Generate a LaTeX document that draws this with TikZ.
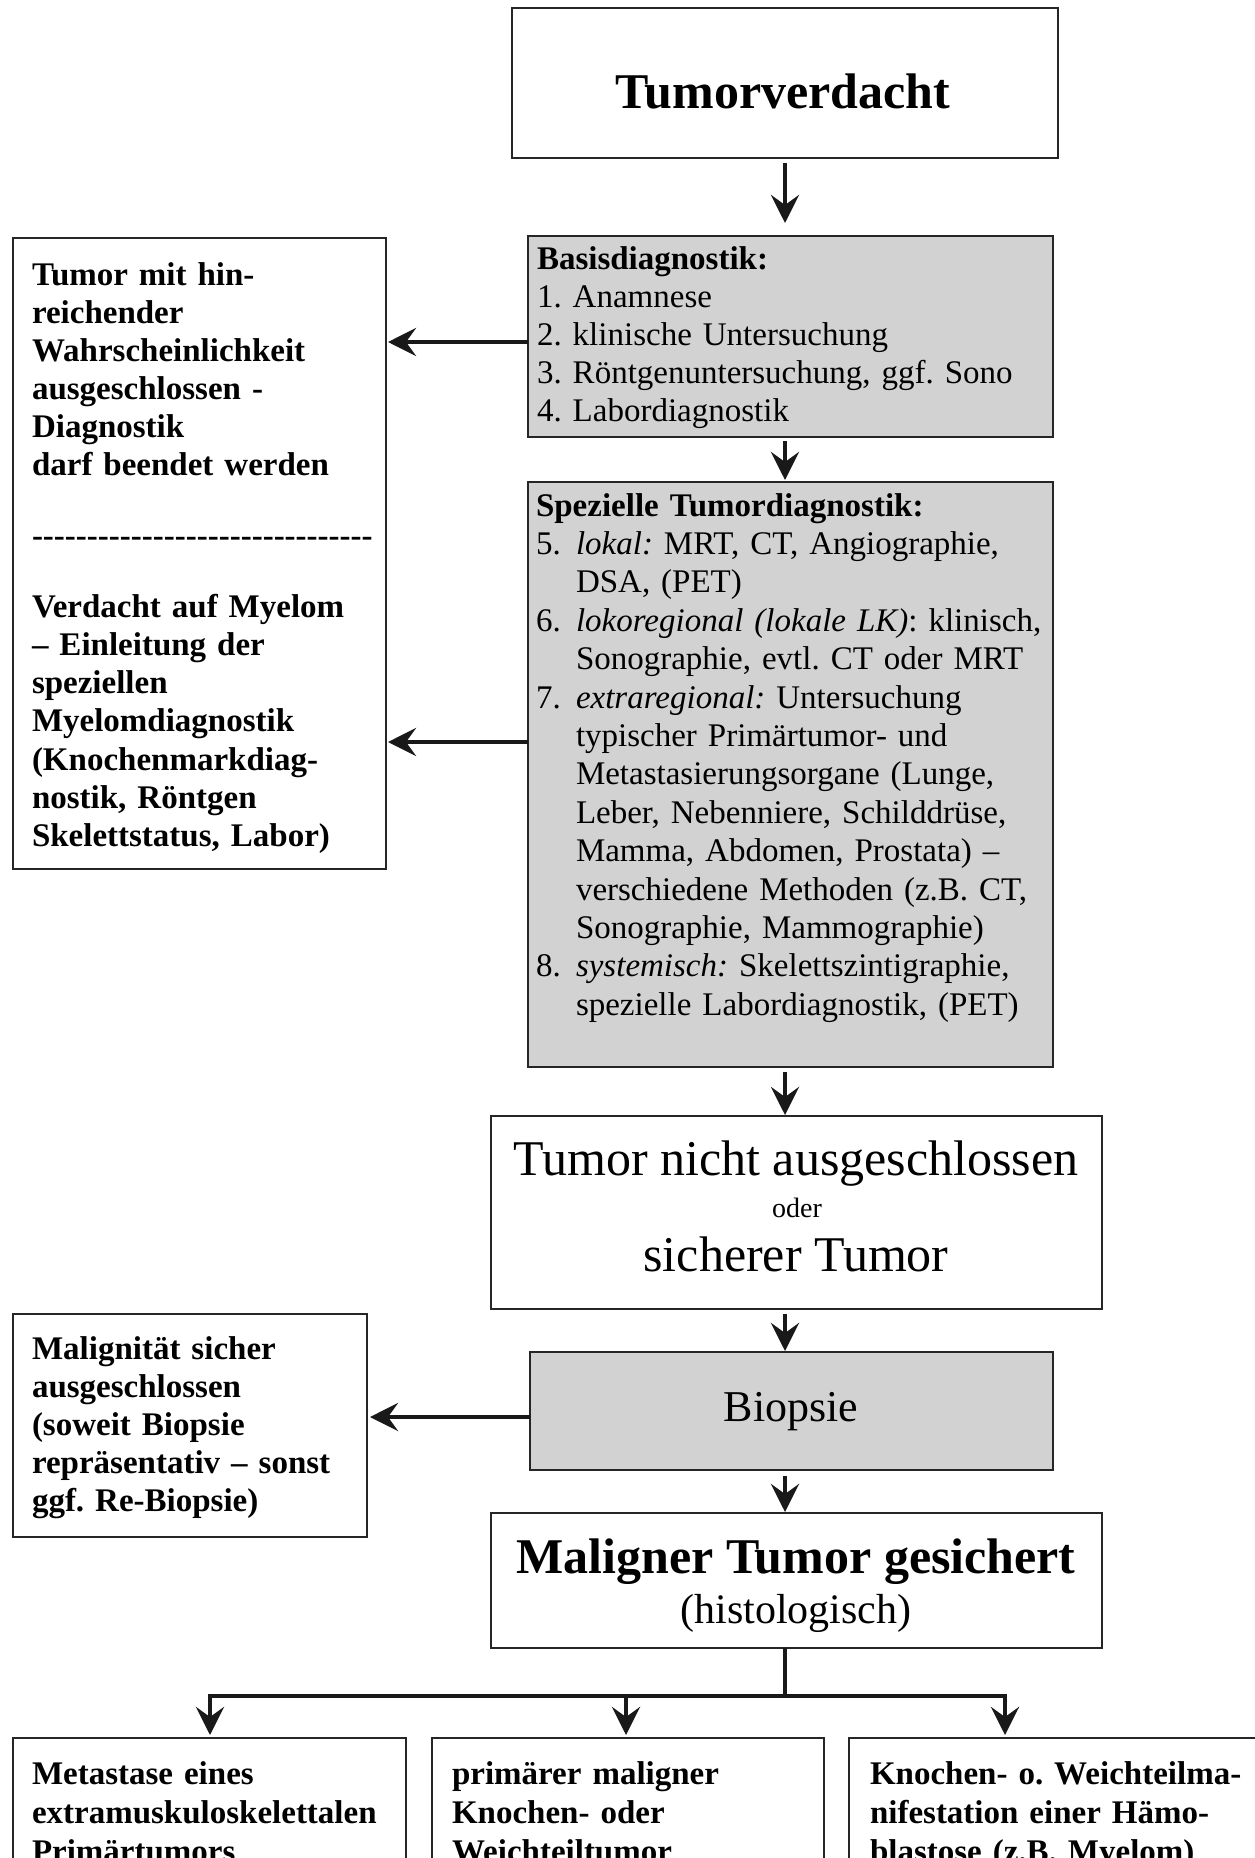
\documentclass[tikz,border=0pt]{standalone}
\usepackage{fontspec}
\setmainfont{Liberation Serif}
\usetikzlibrary{arrows.meta,calc}
\newcommand{\nr}[1]{\makebox[40pt][l]{#1}}
\newcommand{\ind}{\hspace*{40pt}}
\newcommand{\hyrow}{\foreach \k in {1,...,31}{-\kern0pt}}
\frenchspacing
\begin{document}
\begin{tikzpicture}[x=1pt,y=-1pt,
  box/.style={draw=black!85, line width=2.2pt, fill=white, rectangle, inner sep=0pt, outer sep=0pt, anchor=north west},
  greybox/.style={box, fill=gray!35},
  arr/.style={line width=4.5pt, draw=black!90, -{Stealth[length=28pt,width=28pt,inset=10pt]}},
  stem/.style={line width=4.5pt, draw=black!90, line cap=rect},
  txt/.style={anchor=base west, inner sep=0pt, outer sep=0pt, align=left, text width=#1},
  txt/.default=380pt,
  ctr/.style={anchor=base, inner sep=0pt}]
\useasboundingbox (0,0) rectangle (1255,1858);
\clip (0,0) rectangle (1255,1858);
\fill[white] (0,0) rectangle (1255,1858);

% boxes
\node[box, minimum width=546pt, minimum height=150pt] (tv) at (512,8) {};
\node[greybox, minimum width=525pt, minimum height=201pt] (basis) at (528,236) {};
\node[greybox, minimum width=525pt, minimum height=585pt] (spez) at (528,482) {};
\node[box, minimum width=611pt, minimum height=193pt] (nicht) at (491,1116) {};
\node[greybox, minimum width=523pt, minimum height=118pt] (bio) at (530,1352) {};
\node[box, minimum width=611pt, minimum height=135pt] (mal) at (491,1513) {};
\node[box, minimum width=373pt, minimum height=631pt] (lbox1) at (13,238) {};
\node[box, minimum width=354pt, minimum height=223pt] (lbox2) at (13,1314) {};
\node[box, minimum width=393pt, minimum height=200pt] (b1) at (13,1738) {};
\node[box, minimum width=392pt, minimum height=200pt] (b2) at (432,1738) {};
\node[box, minimum width=421pt, minimum height=200pt] (b3) at (849,1738) {};

% texts
\node[ctr, font=\fontsize{50}{60}\selectfont\bfseries] (tvtext) at (783,108) {Tumorverdacht};

\node[txt=600pt, font=\fontsize{33}{38}\selectfont] (basistext) at (537,269)
 {\textbf{Basisdiagnostik:}\\
  1. Anamnese\\
  2. klinische Untersuchung\\
  3. Röntgenuntersuchung, ggf. Sono\\
  4. Labordiagnostik};

\node[txt=600pt, font=\fontsize{33}{38.4}\selectfont] (speztext) at (536,516)
 {\textbf{Spezielle Tumordiagnostik:}\\
  \nr{5.}\textit{lokal:} MRT, CT, Angiographie,\\
  \ind DSA, (PET)\\
  \nr{6.}\textit{lokoregional (lokale LK)}: klinisch,\\
  \ind Sonographie, evtl. CT oder MRT\\
  \nr{7.}\textit{extraregional:} Untersuchung\\
  \ind typischer Primärtumor- und\\
  \ind Metastasierungsorgane (Lunge,\\
  \ind Leber, Nebenniere, Schilddrüse,\\
  \ind Mamma, Abdomen, Prostata) –\\
  \ind verschiedene Methoden (z.B. CT,\\
  \ind Sonographie, Mammographie)\\
  \nr{8.}\textit{systemisch:} Skelettszintigraphie,\\
  \ind spezielle Labordiagnostik, (PET)};

\node[txt, font=\fontsize{33}{38}\selectfont\bfseries] (l1a) at (32,285)
 {Tumor mit hin-\\reichender\\Wahrscheinlichkeit\\ausgeschlossen -\\Diagnostik\\darf beendet werden};
\node[txt, font=\fontsize{33}{38}\selectfont\bfseries] (l1d) at (32,546) {\hyrow};
\node[txt, font=\fontsize{33}{38.3}\selectfont\bfseries] (l1b) at (32,617)
 {Verdacht auf Myelom\\– Einleitung der\\speziellen\\Myelomdiagnostik\\(Knochenmarkdiag-\\nostik, Röntgen\\Skelettstatus, Labor)};

\node[ctr, font=\fontsize{50}{60}\selectfont] (n1) at (796,1175) {Tumor nicht ausgeschlossen};
\node[ctr, font=\fontsize{28}{34}\selectfont] (n2) at (797,1217) {oder};
\node[ctr, font=\fontsize{50}{60}\selectfont] (n3) at (796,1271) {sicherer Tumor};

\node[ctr, font=\fontsize{44}{52}\selectfont] (biotext) at (791,1421) {Biopsie};

\node[txt, font=\fontsize{33}{38}\selectfont\bfseries] (l2t) at (32,1359)
 {Malignität sicher\\ausgeschlossen\\(soweit Biopsie\\repräsentativ – sonst\\ggf. Re-Biopsie)};

\node[ctr, font=\fontsize{50}{60}\selectfont\bfseries] (m1) at (796,1573) {Maligner Tumor gesichert};
\node[ctr, font=\fontsize{42}{50}\selectfont] (m2) at (796,1623) {(histologisch)};

\node[txt, font=\fontsize{33}{39}\selectfont\bfseries] (b1t) at (32,1784)
 {Metastase eines\\extramuskuloskelettalen\\Primärtumors};
\node[txt, font=\fontsize{33}{39}\selectfont\bfseries] (b2t) at (452,1784)
 {primärer maligner\\Knochen- oder\\Weichteiltumor};
\node[txt, font=\fontsize{33}{39}\selectfont\bfseries] (b3t) at (870,1784)
 {Knochen- o. Weichteilma-\\nifestation einer Hämo-\\blastose (z.B. Myelom)};

% connectors
\coordinate (ax) at (785,0);
\draw[arr] ($(tv.south -| ax)+(0,5)$) -- ($(basis.north -| ax)+(0,-13)$);
\draw[arr] ($(basis.south -| ax)+(0,4)$) -- ($(spez.north -| ax)+(0,-2)$);
\draw[arr] ($(spez.south -| ax)+(0,5)$) -- ($(nicht.north -| ax)+(0,-1)$);
\draw[arr] ($(nicht.south -| ax)+(0,5)$) -- ($(bio.north -| ax)+(0,-1)$);
\draw[arr] ($(bio.south -| ax)+(0,6)$) -- ($(mal.north -| ax)+(0,-1)$);

\coordinate (h1) at (0,342);
\coordinate (h2) at (0,742);
\coordinate (h3) at (0,1417);
\draw[arr] (basis.west |- h1) -- ($(lbox1.east |- h1)+(2,0)$);
\draw[arr] (spez.west |- h2) -- ($(lbox1.east |- h2)+(2,0)$);
\draw[arr] (bio.west |- h3) -- ($(lbox2.east |- h3)+(3,0)$);

\coordinate (jc) at (785,1696);
\coordinate (jl) at (210,1696);
\coordinate (jm) at (626,1696);
\coordinate (jr) at (1005,1696);
\draw[stem] ($(mal.south -| ax)+(0,2)$) -- (jc);
\draw[arr] (jc) -| ($(jl |- b1.north)+(0,-3)$);
\draw[arr] (jc) -| ($(jr |- b3.north)+(0,-3)$);
\draw[arr] (jm) -- ($(jm |- b2.north)+(0,-3)$);
\end{tikzpicture}
\end{document}
